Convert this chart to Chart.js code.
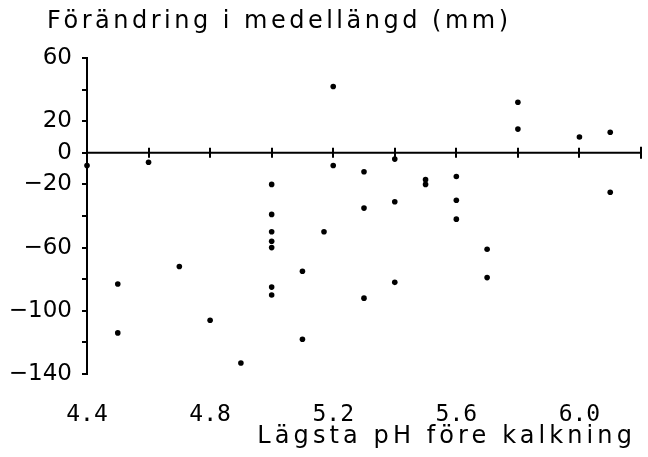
<!DOCTYPE html>
<html lang="sv">
<head>
<meta charset="utf-8">
<title>Förändring i medellängd</title>
<script src="https://cdn.jsdelivr.net/npm/chart.js@4/dist/chart.umd.min.js"></script>
<style>
    html, body { margin: 0; padding: 0; background: #fff; }
    canvas { display: block; }
</style>
</head>
<body>
<canvas id="graf" width="648" height="457"></canvas>
<script>
// Texter
const titelY = 'Förändring i medellängd (mm)';
const titelX = 'Lägsta pH före kalkning';

// Lägsta pH före kalkning (x) och förändring i medellängd i mm (y)
const phVarden = [
    4.4, 4.5, 4.5, 4.6, 4.7, 4.8, 4.9,
    5.0, 5.0, 5.0, 5.0, 5.0, 5.0, 5.0,
    5.1, 5.1, 5.17, 5.2, 5.2,
    5.3, 5.3, 5.3, 5.4, 5.4, 5.4,
    5.5, 5.5, 5.6, 5.6, 5.6, 5.7, 5.7,
    5.8, 5.8, 6.0, 6.1, 6.1
];
const forandring = [
    -8, -83, -114, -6, -72, -106, -133,
    -20, -39, -50, -56, -60, -85, -90,
    -75, -118, -50, 42, -8,
    -12, -35, -92, -4, -31, -82,
    -17, -20, -15, -30, -42, -61, -79,
    32, 15, 10, 13, -25
];

// Axelgränser och etiketter
const xMin = 4.4, xMax = 6.2, xSteg = 0.2;
const yMin = -140, yMax = 60, ySteg = 20;
const xEtiketter = [4.4, 4.8, 5.2, 5.6, 6.0];
const yEtiketter = [60, 20, 0, -20, -60, -100, -140];

const punkter = phVarden.map((ph, i) => ({ x: ph, y: forandring[i] }));

// Ritar x-axeln vid y = 0 samt rubrikerna (med spärrad text)
const axlarPlugin = {
    id: 'axlar',
    afterDraw(chart) {
        const ctx = chart.ctx;
        const sx = chart.scales.x;
        const sy = chart.scales.y;
        const y0 = sy.getPixelForValue(0);

        ctx.save();
        ctx.strokeStyle = '#000';
        ctx.lineWidth = 2;
        ctx.beginPath();
        ctx.moveTo(sx.getPixelForValue(xMin), y0);
        ctx.lineTo(sx.getPixelForValue(xMax), y0);
        for (let v = xMin + xSteg; v <= xMax + 1e-6; v += xSteg) {
            const px = Math.round(sx.getPixelForValue(v));
            const l = v > xMax - 1e-6 ? 6 : 5;
            ctx.moveTo(px, y0 - l);
            ctx.lineTo(px, y0 + l);
        }
        ctx.stroke();

        ctx.fillStyle = '#000';
        ctx.font = '24px "DejaVu Sans"';
        ctx.textBaseline = 'alphabetic';
        ctx.letterSpacing = '3.5px';
        ctx.textAlign = 'left';
        ctx.fillText(titelY, 47, 28);
        ctx.letterSpacing = '4.1px';
        ctx.textAlign = 'right';
        ctx.fillText(titelX, 636, 443);
        ctx.restore();
    }
};

const ctx = document.getElementById('graf').getContext('2d');
const graf = new Chart(ctx, {
    type: 'scatter',
    data: {
        datasets: [{
            label: titelY,
            data: punkter,
            backgroundColor: '#000',
            borderWidth: 0,
            pointRadius: 2.8,
            clip: false
        }]
    },
    options: {
        responsive: false,
        animation: false,
        events: [],
        layout: { padding: { top: 58, right: 7, bottom: 0, left: 0 } },
        plugins: {
            legend: { display: false },
            title: { display: false },
            tooltip: { enabled: false }
        },
        scales: {
            x: {
                type: 'linear',
                min: xMin,
                max: xMax,
                grid: { display: false, drawTicks: false },
                border: { display: false },
                ticks: {
                    stepSize: xSteg,
                    autoSkip: false,
                    maxRotation: 0,
                    padding: 27,
                    color: '#000',
                    font: { family: '"DejaVu Sans Mono"', size: 23 },
                    callback: (v) => {
                        const e = xEtiketter.find(l => Math.abs(l - v) < 1e-6);
                        return e === undefined ? '' : e.toFixed(1);
                    }
                },
                afterFit: (scale) => {
                    scale.height = 83;
                    scale.paddingLeft = 0;
                    scale.paddingRight = 0;
                }
            },
            y: {
                min: yMin,
                max: yMax,
                grid: {
                    drawOnChartArea: false,
                    drawTicks: true,
                    tickLength: 5,
                    color: '#000',
                    lineWidth: 2
                },
                border: { display: true, color: '#000', width: 2 },
                ticks: {
                    stepSize: ySteg,
                    autoSkip: false,
                    padding: 10,
                    color: '#000',
                    font: { family: '"DejaVu Sans"', size: 23 },
                    callback: (v) => yEtiketter.includes(v) ? String(v).replace('-', '\u2212') : ''
                },
                afterFit: (scale) => { scale.width = 87; }
            }
        }
    },
    plugins: [axlarPlugin]
});
</script>
</body>
</html>
